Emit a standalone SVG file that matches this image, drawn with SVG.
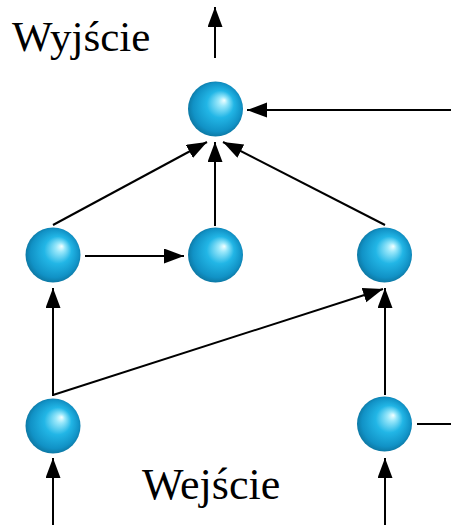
<svg xmlns="http://www.w3.org/2000/svg" width="451" height="525" viewBox="0 0 451 525">
  <style>
    .edge { stroke: #000; stroke-width: 2; fill: none; }
    .arrow { marker-end: url(#head); }
    .label { font-family: "Liberation Serif", "DejaVu Serif", serif; fill: #000; }
    .ball { fill: url(#ballShade); }
  </style>
  <defs>
    <radialGradient id="ballShade" cx="0.5" cy="0.5" r="0.55" fx="0.66" fy="0.34">
      <stop offset="0" stop-color="#f2ffff"/>
      <stop offset="0.15" stop-color="#9ae8fb"/>
      <stop offset="0.45" stop-color="#22b6e6"/>
      <stop offset="0.8" stop-color="#1192c6"/>
      <stop offset="1" stop-color="#0b6c94"/>
    </radialGradient>
    <marker id="head" markerUnits="userSpaceOnUse" markerWidth="21" markerHeight="16" refX="20" refY="7.5" orient="auto">
      <path d="M0,0 L20,7.5 L0,15 z" fill="#000"/>
    </marker>
  </defs>

  <!-- connectors -->
  <g id="connectors">
    <!-- output -->
    <line class="edge arrow" x1="215" y1="58" x2="215" y2="7"/>
    <!-- external feed into top neuron -->
    <line class="edge arrow" x1="451" y1="110" x2="247" y2="110"/>
    <!-- hidden layer to top neuron -->
    <line class="edge arrow" x1="53" y1="225" x2="207" y2="142"/>
    <line class="edge arrow" x1="215" y1="226" x2="215" y2="142"/>
    <line class="edge arrow" x1="385" y1="225" x2="223" y2="142"/>
    <!-- lateral link in hidden layer -->
    <line class="edge arrow" x1="85" y1="256" x2="184" y2="256"/>
    <!-- input layer to hidden layer -->
    <line class="edge arrow" x1="53" y1="396" x2="53" y2="288"/>
    <line class="edge arrow" x1="53" y1="395" x2="383" y2="289"/>
    <line class="edge arrow" x1="385" y1="395" x2="385" y2="288"/>
    <!-- outgoing line from right input neuron -->
    <line class="edge" x1="417" y1="424" x2="451" y2="424"/>
    <!-- inputs -->
    <line class="edge arrow" x1="53" y1="525" x2="53" y2="458"/>
    <line class="edge arrow" x1="385" y1="525" x2="385" y2="458"/>
  </g>

  <g id="n-top"><circle class="ball" cx="215.5" cy="109" r="27.5"/></g>
  <g id="n-mid-left"><circle class="ball" cx="53" cy="255" r="27.5"/></g>
  <g id="n-mid-center"><circle class="ball" cx="215.5" cy="255" r="27.5"/></g>
  <g id="n-mid-right"><circle class="ball" cx="384.5" cy="255" r="27.5"/></g>
  <g id="n-in-left"><circle class="ball" cx="53" cy="426" r="27.5"/></g>
  <g id="n-in-right"><circle class="ball" cx="384.5" cy="424" r="27.5"/></g>

  <text class="label" x="12" y="51" font-size="43">Wyjście</text>
  <text class="label" x="142" y="499" font-size="44">Wejście</text>
</svg>
